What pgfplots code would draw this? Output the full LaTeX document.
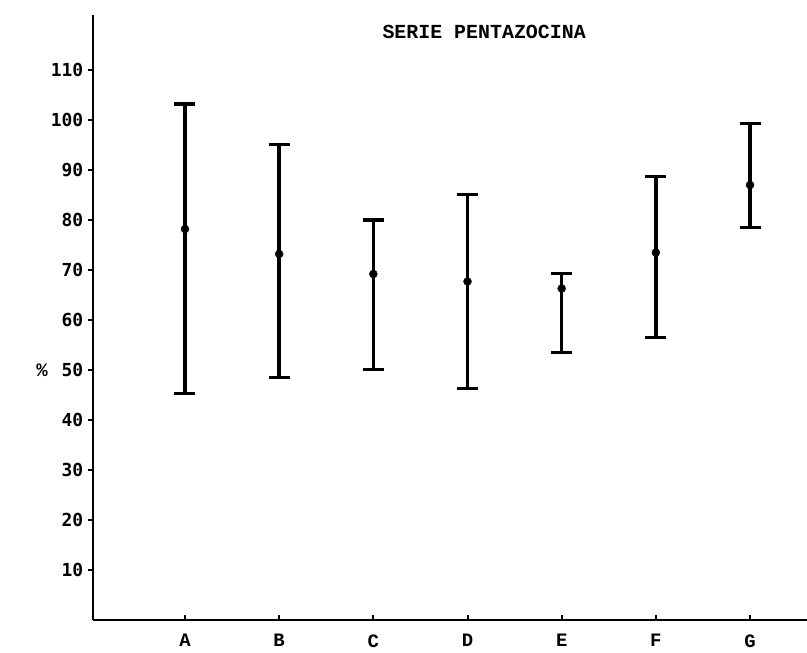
\documentclass[border=0pt]{standalone}
\usepackage{pgfplots}
\pgfplotsset{compat=1.18}
\usepackage{fontspec}
\setmainfont{Liberation Mono}
\newfontfamily\tickfont{DejaVu Sans Mono}
\usetikzlibrary{calc}

\begin{document}
\begin{tikzpicture}
\begin{axis}[
 scale only axis, width=714.3bp, height=605bp,
 xmin=-0.98, xmax=6.605, ymin=0, ymax=121,
 axis lines*=left,
 axis line style={line width=2.4bp},
 xtick={0,...,6}, xticklabels={A,B,C,D,E,F,G},
 ytick={10,20,...,110},
 tick align=outside,
 major tick length=5bp,
 tick style={line width=2bp, black},
 xtick style={yshift=5bp},
 /pgf/number format/assume math mode=true,
 yticklabel style={font=\tickfont\bfseries\fontsize{18}{20}\selectfont, xshift=-1bp},
 xticklabel style={font=\bfseries\fontsize{19}{21}\selectfont, yshift=-6bp},
 ylabel={\%},
 ylabel style={at={(axis description cs:-0.071,0.413)}, rotate=-90, anchor=center, font=\bfseries\fontsize{19}{21}\selectfont},
 clip=false,
]
\addplot[black, only marks, mark=*, mark size=4bp,
 error bars/.cd, y dir=both, y explicit,
 error bar style={line width=3.6bp, black},
 error mark options={rotate=90, line width=3.6bp, mark size=10.5bp, black}]
 table[x=x, y=y, y error plus=ep, y error minus=em] {
x y ep em
0 78.2 25.0 32.9
1 73.2 21.9 24.7
2 69.2 10.8 19.1
3 67.7 17.4 21.4
4 66.3 3.0 12.8
5 73.5 15.2 17.0
6 87.0 12.3 8.5
};
\node[font=\bfseries\fontsize{20}{22}\selectfont] at (axis description cs:0.548,0.972) {SERIE PENTAZOCINA};
\end{axis}
\pgfresetboundingbox
\path[use as bounding box] ($(current axis.south west)+(-92.7bp,-32bp)$) rectangle ($(current axis.north east)+(0,15bp)$);
\end{tikzpicture}
\end{document}
